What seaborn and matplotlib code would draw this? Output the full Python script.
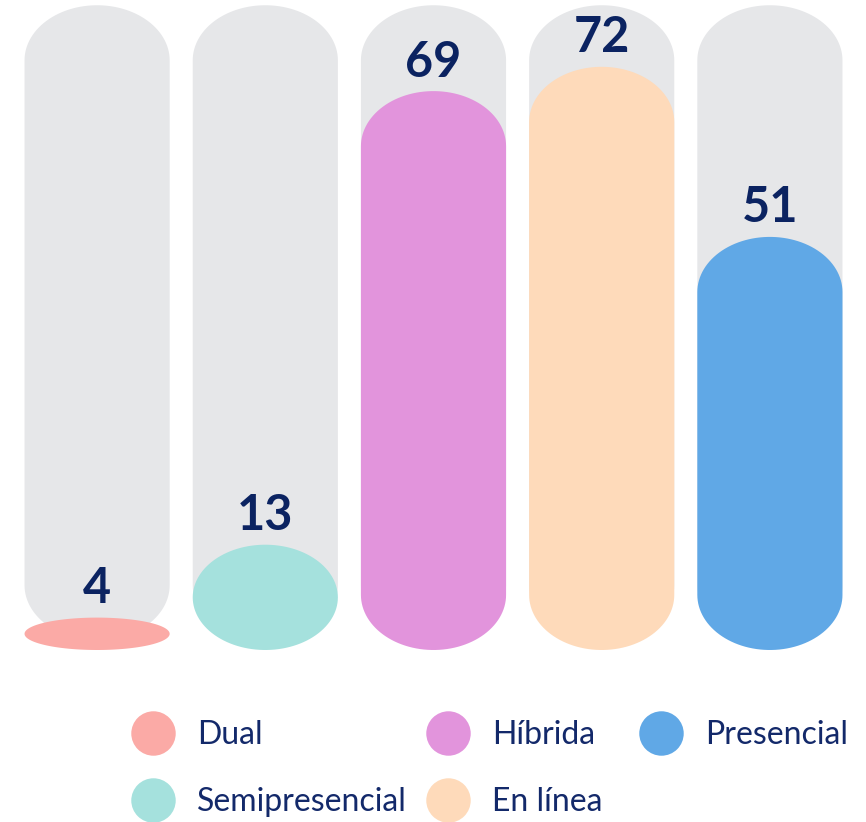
import numpy as np
import pandas as pd
import matplotlib.pyplot as plt
import seaborn as sns
from matplotlib.path import Path
from matplotlib.patches import PathPatch
from matplotlib.lines import Line2D

# -----------------------
# Data
# -----------------------
categories = ['Dual', 'Semipresencial', 'Híbrida', 'En línea', 'Presencial']
values = [4, 13, 69, 72, 51]
colors = ['#FBAAA6', '#A5E1DD', '#E294DC', '#FEDABA', '#60A8E6']

TRACK_TOP = 79.6      # height of the grey background pills
TRACK_BOTTOM = 1.2
TRACK_COLOR = '#E6E7E9'
LABEL_COLOR = '#0B2361'
TEXT_COLOR = '#13296A'
BAR_WIDTH = 0.863
CAP = 6.8             # vertical radius of rounded ends (data units)


def capsule(x0, y0, w, h, ry):
    """Rectangle with elliptical top and bottom ends."""
    rx = w / 2
    ry = min(ry, h / 2)
    cx = x0 + rx
    t = np.linspace(0, np.pi, 60)
    top = np.column_stack([cx + rx * np.cos(t), y0 + h - ry + ry * np.sin(t)])
    bot = np.column_stack([cx - rx * np.cos(t), y0 + ry - ry * np.sin(t)])
    verts = np.vstack([top, bot, top[:1]])
    codes = [Path.MOVETO] + [Path.LINETO] * (len(verts) - 2) + [Path.CLOSEPOLY]
    return Path(verts, codes)


def round_patches(ax, patches, bottom=0.0):
    for p in patches:
        x, w, h = p.get_x(), p.get_width(), p.get_height()
        color = p.get_facecolor()
        p.remove()
        ax.add_patch(PathPatch(capsule(x, bottom, w, h - bottom, CAP),
                               facecolor=color, edgecolor='none', zorder=p.get_zorder()))


df = pd.DataFrame({'categoria': categories, 'valor': values,
                   'fondo': [TRACK_TOP] * len(categories)})

sns.set_theme(style='white')
plt.rcParams['font.family'] = ['Lato', 'DejaVu Sans']

fig = plt.figure(figsize=(8.66, 8.22), dpi=100)
ax = fig.add_axes([13 / 866, 172 / 822, 841 / 866, 648 / 822])

# grey tracks
sns.barplot(data=df, x='categoria', y='fondo', color=TRACK_COLOR, width=BAR_WIDTH,
            saturation=1, ax=ax, zorder=1)
track_patches = list(ax.patches)
round_patches(ax, track_patches, bottom=TRACK_BOTTOM)

# coloured bars
sns.barplot(data=df, x='categoria', y='valor', hue='categoria', palette=colors,
            width=BAR_WIDTH, saturation=1, legend=False, ax=ax, zorder=2)
bar_patches = [p for p in ax.patches if not isinstance(p, PathPatch)]
round_patches(ax, bar_patches)

for i, v in enumerate(values):
    ax.text(i, v + 1.8, str(v), ha='center', va='baseline', fontsize=35,
            fontweight='bold', color=LABEL_COLOR, zorder=3)

ax.set_xlim(-0.5, len(categories) - 0.5)
ax.set_ylim(0, 80)
ax.axis('off')

# legend: first two columns, then Presencial on its own
handles = [Line2D([], [], marker='o', linestyle='none', markersize=32,
                  markerfacecolor=c, markeredgecolor='none') for c in colors]
leg_kw = dict(loc='upper left', frameon=False, fontsize=23, labelcolor=TEXT_COLOR,
              handletextpad=0.375, labelspacing=1.15, borderpad=0, borderaxespad=0)
fig.legend(handles[:4], categories[:4], ncol=2, columnspacing=0.3,
           bbox_to_anchor=(121 / 866, 1 - 720 / 822), **leg_kw)
fig.legend(handles[4:], categories[4:], ncol=1,
           bbox_to_anchor=(629 / 866, 1 - 720 / 822), **leg_kw)

fig.savefig('out.png', dpi=100, facecolor='white')
